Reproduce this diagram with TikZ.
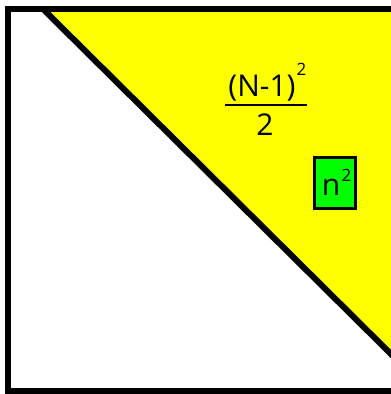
\documentclass[tikz,border=0pt]{standalone}
\usepackage{fontspec}
\setmainfont{Open Sans}
\definecolor{yel}{RGB}{255,255,0}
\definecolor{grn}{RGB}{0,255,0}
\begin{document}
\begin{tikzpicture}[x=1pt,y=-1pt,
  edge/.style={line width=6pt},
  lbl/.style={inner sep=0pt, font=\fontsize{30}{34}\selectfont},
  sup/.style={inner sep=0pt, font=\fontsize{17}{19}\selectfont}]
\useasboundingbox (0,0) rectangle (391,394);
\fill[white] (0,0) rectangle (391,394);
\fill[yel] (44,8) -- (398,8) -- (398,360) -- cycle;
\coordinate (d1) at (42,8);
\coordinate (d2) at (398,361);
\draw[edge] (d1) -- (d2);
\draw[edge] (398,8.5) -- (7.5,8.5) -- (7.5,391) -- (398,391);
\node[lbl] (num) at (262,88) {(N-1)};
\node[sup] (numsup) at (301.5,69) {2};
\coordinate (b1) at (225,105);
\coordinate (b2) at (307,105);
\draw[line width=1.6pt] (b1) -- (b2);
\node[lbl] (den) at (265,125) {2};
\node[draw=black, line width=3pt, fill=grn, minimum width=41pt, minimum height=51pt, inner sep=0pt] (box) at (335,183) {};
\node[lbl] (n) at (331,187) {n};
\node[sup] (nsup) at (346.5,175) {2};
\end{tikzpicture}
\end{document}
